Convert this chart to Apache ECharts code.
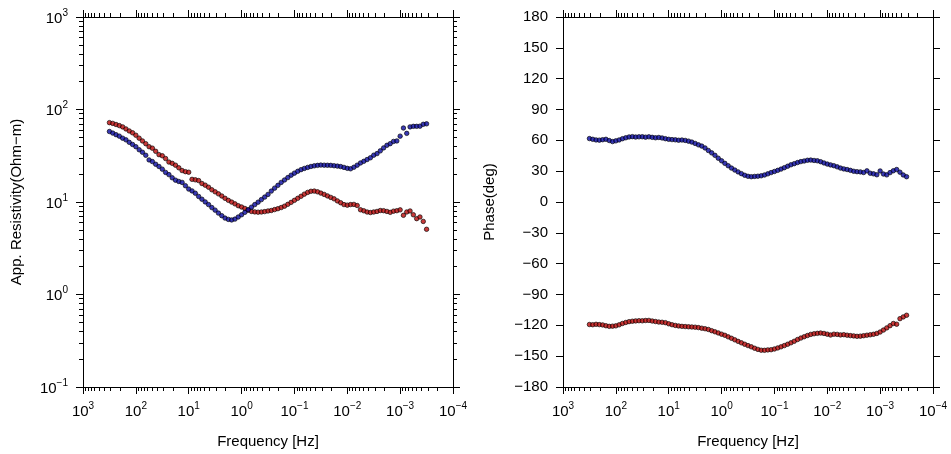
<!DOCTYPE html>
<html>
<head>
<meta charset="utf-8">
<title>MT sounding: apparent resistivity and phase</title>
<script src="https://cdn.jsdelivr.net/npm/echarts@6/dist/echarts.min.js"></script>
<style>
  html, body { margin: 0; padding: 0; background: #ffffff; }
  #chart { width: 951px; height: 454px; }
</style>
</head>
<body>
<div id="chart"></div>
<script>
// Sounding frequencies [Hz], high to low
const freq = [
  316.2, 273.8, 237.1, 205.4, 177.8, 154.0, 133.4, 115.5,
  100, 86.6, 74.99, 64.94, 56.23, 48.7, 42.17, 36.52, 31.62, 27.38, 23.71, 20.54, 17.78, 15.4, 13.34, 11.55,
  10, 8.66, 7.499, 6.494, 5.623, 4.87, 4.217, 3.652, 3.162, 2.738, 2.371, 2.054, 1.778, 1.54, 1.334, 1.155,
  1, 0.866, 0.7499, 0.6494, 0.5623, 0.487, 0.4217, 0.3652, 0.3162, 0.2738, 0.2371, 0.2054, 0.1778, 0.154, 0.1334, 0.1155,
  0.1, 0.0866, 0.07499, 0.06494, 0.05623, 0.0487, 0.04217, 0.03652, 0.03162, 0.02738, 0.02371, 0.02054, 0.01778, 0.0154, 0.01334, 0.01155,
  0.01, 0.00866, 0.007499, 0.006494, 0.005623, 0.00487, 0.004217, 0.003652, 0.003162, 0.002738, 0.002371, 0.002054, 0.001778, 0.00154, 0.001334, 0.001155,
  0.001, 0.000866, 0.0007499, 0.0006494, 0.0005623, 0.000487, 0.0004217, 0.0003652, 0.0003162
];

// log10 of apparent resistivity [Ohm-m], XY mode (blue)
const log10RhoXY = [
  1.762, 1.745, 1.728, 1.712, 1.690, 1.672, 1.645, 1.622, 1.598, 1.565,
  1.538, 1.505, 1.455, 1.437, 1.408, 1.384, 1.355, 1.320, 1.296, 1.262,
  1.236, 1.222, 1.212, 1.176, 1.140, 1.120, 1.095, 1.060, 1.030, 1.001,
  0.972, 0.940, 0.912, 0.880, 0.852, 0.826, 0.812, 0.806, 0.815, 0.838,
  0.862, 0.888, 0.917, 0.944, 0.972, 0.998, 1.026, 1.053, 1.082, 1.118,
  1.150, 1.180, 1.212, 1.238, 1.264, 1.290, 1.312, 1.332, 1.350, 1.363,
  1.374, 1.384, 1.391, 1.396, 1.399, 1.398, 1.397, 1.396, 1.392, 1.388,
  1.383, 1.374, 1.364, 1.359, 1.376, 1.398, 1.422, 1.440, 1.459, 1.478,
  1.506, 1.523, 1.553, 1.585, 1.613, 1.631, 1.655, 1.660, 1.712, 1.800,
  1.742, 1.812, 1.818, 1.818, 1.820, 1.840, 1.845
];

// log10 of apparent resistivity [Ohm-m], YX mode (red)
const log10RhoYX = [
  1.858, 1.850, 1.838, 1.826, 1.812, 1.790, 1.768, 1.748, 1.722, 1.690,
  1.660, 1.630, 1.598, 1.582, 1.548, 1.512, 1.500, 1.470, 1.432, 1.418,
  1.398, 1.370, 1.340, 1.328, 1.322, 1.245, 1.240, 1.232, 1.200, 1.182,
  1.160, 1.132, 1.110, 1.088, 1.065, 1.040, 1.018, 0.999, 0.980, 0.960,
  0.946, 0.930, 0.912, 0.898, 0.893, 0.890, 0.892, 0.896, 0.903, 0.908,
  0.918, 0.928, 0.940, 0.955, 0.975, 0.996, 1.018, 1.040, 1.062, 1.085,
  1.104, 1.116, 1.118, 1.110, 1.096, 1.082, 1.066, 1.050, 1.034, 1.012,
  0.992, 0.972, 0.966, 0.972, 0.974, 0.962, 0.916, 0.905, 0.892, 0.886,
  0.892, 0.898, 0.908, 0.906, 0.898, 0.888, 0.901, 0.906, 0.915, 0.856,
  0.892, 0.903, 0.862, 0.820, 0.838, 0.790, 0.705
];

// Impedance phase [deg], XY mode (blue)
const phaseXY = [
  61.7, 61.0, 60.4, 60.2, 60.6, 61.0, 59.8, 58.8, 59.5, 60.4,
  61.6, 62.5, 63.3, 63.6, 63.2, 63.4, 63.5, 63.1, 63.4, 62.9,
  62.5, 62.8, 62.3, 61.6, 61.0, 60.7, 60.5, 60.1, 60.3, 59.9,
  59.2, 58.3, 57.0, 55.6, 54.4, 52.6, 50.1, 47.8, 45.4, 42.6,
  40.1, 37.6, 35.3, 33.0, 31.1, 29.3, 27.6, 26.0, 25.0, 24.6,
  24.9, 25.1, 25.5, 26.3, 27.4, 28.6, 29.7, 30.8, 32.0, 33.4,
  34.8, 36.2, 37.3, 38.4, 39.3, 39.9, 40.6, 40.8, 40.4, 40.1,
  39.2, 38.0, 36.9, 36.1, 35.3, 34.2, 33.0, 32.2, 31.6, 30.8,
  29.9, 29.5, 29.3, 28.7, 30.3, 28.0, 27.4, 26.5, 30.2, 27.2,
  26.4, 28.6, 30.4, 31.6, 29.0, 26.3, 24.6
];

// Impedance phase [deg], YX mode (red)
const phaseYX = [
  -119.2, -119.4, -119.0, -119.3, -119.6, -120.4, -121.0, -120.8, -120.5, -119.5,
  -118.2, -117.2, -116.4, -116.0, -115.7, -115.5, -115.6, -115.3, -115.2, -115.8,
  -116.3, -116.8, -117.0, -117.4, -118.5, -119.4, -120.1, -120.6, -121.0, -121.2,
  -121.4, -121.6, -121.8, -122.2, -122.8, -123.3, -124.0, -125.2, -126.3, -127.4,
  -128.6, -129.7, -131.2, -132.6, -134.1, -135.6, -137.0, -138.4, -139.7, -140.9,
  -142.3, -143.4, -144.2, -144.3, -143.9, -143.7, -143.0, -142.0, -140.9, -139.7,
  -138.4, -137.0, -135.5, -133.8, -132.4, -131.1, -129.9, -128.8, -128.2, -127.8,
  -127.5, -127.9, -128.6, -129.4, -128.6, -128.8, -129.3, -129.1, -129.6, -130.0,
  -130.3, -130.7, -130.5, -130.1, -129.6, -129.2, -128.7, -127.9, -126.5, -124.6,
  -122.5, -120.3, -118.2, -118.9, -113.5, -111.8, -110.2
];

// Axis ranges and tick spacing
const freqRange = [0.0001, 1000];
const rhoRange = [0.1, 1000];
const phaseRange = [-180, 180];
const phaseStep = 30;

const FONT = '"Liberation Sans", Arial, Helvetica, sans-serif';
const INK = '#000000';
const BLUE = '#0808a0';
const RED = '#b80808';
const FS = 15;

// "10" with a raised exponent, using a typographic minus
function powerLabel(v) {
  const e = Math.round(Math.log10(v));
  return '{b|10}{s|' + String(e).replace('-', '\u2212') + '}';
}
const powerRich = {
  b: { fontSize: FS, fontFamily: FONT, color: INK, lineHeight: 18, verticalAlign: 'bottom' },
  s: { fontSize: 10, fontFamily: FONT, color: INK, lineHeight: 10, verticalAlign: 'top' }
};

function logAxis(gridIndex, position, range, opts) {
  opts = opts || {};
  return Object.assign({
    type: 'log', logBase: 10, gridIndex: gridIndex, position: position,
    min: range[0], max: range[1], interval: 1, splitNumber: Math.round(Math.log10(range[1] / range[0])),
    axisLine: { show: true, onZero: false, lineStyle: { color: INK, width: 1 } },
    axisTick: { show: true, inside: false, length: 7, lineStyle: { color: INK, width: 1 } },
    minorTick: { show: true, splitNumber: 9, length: 4, lineStyle: { color: INK, width: 1 } },
    axisLabel: { show: false },
    splitLine: { show: false },
    minorSplitLine: { show: false }
  }, opts);
}

function phaseAxis(gridIndex, position, opts) {
  return Object.assign({
    type: 'value', gridIndex: gridIndex, position: position,
    min: phaseRange[0], max: phaseRange[1], interval: phaseStep,
    axisLine: { show: true, onZero: false, lineStyle: { color: INK, width: 1 } },
    axisTick: { show: true, inside: false, length: 7, lineStyle: { color: INK, width: 1 } },
    axisLabel: { show: false },
    splitLine: { show: false }
  }, opts || {});
}

const freqName = {
  name: 'Frequency [Hz]', nameLocation: 'middle', nameGap: 47,
  nameTextStyle: { fontSize: FS, fontFamily: FONT, color: INK }
};
const freqLabel = {
  axisLabel: { show: true, margin: 14, formatter: powerLabel, rich: powerRich,
    showMinLabel: true, showMaxLabel: true, hideOverlap: false }
};

const chart = echarts.init(document.getElementById('chart'), null, { renderer: 'canvas' });

chart.setOption({
  animation: false,
  backgroundColor: '#ffffff',
  grid: [
    { left: 83, top: 17, width: 370, height: 370, containLabel: false, outerBoundsMode: 'none' },
    { left: 563, top: 17, width: 370, height: 370, containLabel: false, outerBoundsMode: 'none' }
  ],
  xAxis: [
    logAxis(0, 'bottom', freqRange, Object.assign({}, freqLabel, freqName, { inverse: true })),
    logAxis(0, 'top', freqRange, { inverse: true }),
    logAxis(1, 'bottom', freqRange, Object.assign({}, freqLabel, freqName, { inverse: true })),
    logAxis(1, 'top', freqRange, { inverse: true })
  ],
  yAxis: [
    logAxis(0, 'left', rhoRange, {
      axisLabel: { show: true, margin: 15, formatter: powerLabel, rich: powerRich,
        showMinLabel: true, showMaxLabel: true, hideOverlap: false },
      name: 'App. Resistivity(Ohm\u2212m)', nameLocation: 'middle', nameGap: 59, nameRotate: 90,
      nameTextStyle: { fontSize: FS, fontFamily: FONT, color: INK }
    }),
    logAxis(0, 'right', rhoRange),
    phaseAxis(1, 'left', {
      axisLabel: { show: true, margin: 15, fontSize: FS, fontFamily: FONT, color: INK,
        formatter: v => String(v).replace('-', '\u2212'),
        showMinLabel: true, showMaxLabel: true, hideOverlap: false },
      name: 'Phase(deg)', nameLocation: 'middle', nameGap: 66, nameRotate: 90,
      nameTextStyle: { fontSize: FS, fontFamily: FONT, color: INK }
    }),
    phaseAxis(1, 'right')
  ],
  series: [
    {
      name: 'rho yx', type: 'scatter', xAxisIndex: 0, yAxisIndex: 0,
      symbol: 'circle', symbolSize: 4.5,
      itemStyle: { color: RED, borderColor: '#000000', borderWidth: 0.8 },
      data: freq.map((f, i) => [f, Math.pow(10, log10RhoYX[i])])
    },
    {
      name: 'rho xy', type: 'scatter', xAxisIndex: 0, yAxisIndex: 0,
      symbol: 'circle', symbolSize: 4.5,
      itemStyle: { color: BLUE, borderColor: '#000000', borderWidth: 0.8 },
      data: freq.map((f, i) => [f, Math.pow(10, log10RhoXY[i])])
    },
    {
      name: 'phase xy', type: 'scatter', xAxisIndex: 2, yAxisIndex: 2,
      symbol: 'circle', symbolSize: 4.5,
      itemStyle: { color: BLUE, borderColor: '#000000', borderWidth: 0.8 },
      data: freq.map((f, i) => [f, phaseXY[i]])
    },
    {
      name: 'phase yx', type: 'scatter', xAxisIndex: 2, yAxisIndex: 2,
      symbol: 'circle', symbolSize: 4.5,
      itemStyle: { color: RED, borderColor: '#000000', borderWidth: 0.8 },
      data: freq.map((f, i) => [f, phaseYX[i]])
    }
  ]
});
</script>
</body>
</html>
